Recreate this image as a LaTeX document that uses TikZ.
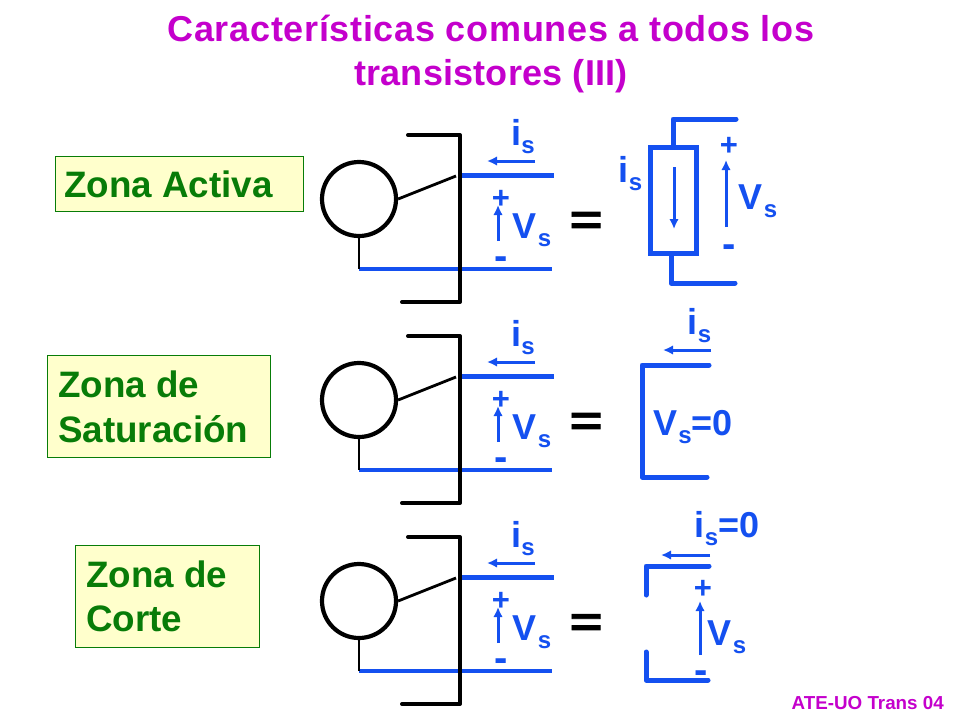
\documentclass[tikz,border=0pt]{standalone}
\usepackage{fontspec}
\setmainfont{Liberation Sans}
\usetikzlibrary{arrows.meta}
\definecolor{bl}{HTML}{1450F0}
\definecolor{gr}{HTML}{087C08}
\definecolor{mg}{HTML}{C400CC}
\definecolor{yl}{HTML}{FFFFCC}
\newcommand{\sym}[1]{\fontsize{#1}{#1}\selectfont\bfseries}
\newcommand{\Vs}{V\kern1pt\raisebox{-8pt}{\fontsize{24}{24}\selectfont s}}
\newcommand{\Is}{i\raisebox{-8pt}{\fontsize{24}{24}\selectfont s}}
\tikzset{
 x=1pt,y=-1pt,
 blk/.style={draw=black,line width=4pt,line join=round,line cap=round},
 blkthin/.style={draw=black,line width=2.8pt},
 wire/.style={draw=bl,line width=4.6pt},
 rwire/.style={draw=bl,line width=5pt,line join=round,line cap=round},
 cur/.style={draw=bl,line width=3pt,-{Latex[length=10pt,width=9.5pt]}},
 lab/.style={text=bl,font=\sym{36},inner sep=0pt},
 plus/.style={text=bl,font=\sym{31},inner sep=0pt},
 minus/.style={text=bl,font=\sym{40},inner sep=0pt},
 zonebox/.style={draw=gr,line width=0.7pt,fill=yl,anchor=north west,inner sep=0pt},
 zonetxt/.style={text=gr,font=\sym{36.8},align=left,inner sep=0pt,anchor=west},
 eq/.style={text=black,font=\sym{56}\addfontfeatures{FakeBold=1.6},inner sep=0pt},
 gnode/.style={circle,draw=black,line width=4.2pt,minimum size=74pt,inner sep=0pt},
 titletxt/.style={text=mg,font=\sym{36}\addfontfeatures{LetterSpace=1.9},inner sep=0pt},
 titletxtb/.style={text=mg,font=\sym{36}\addfontfeatures{LetterSpace=0.6},inner sep=0pt},
}
\begin{document}
\begin{tikzpicture}
\useasboundingbox (0,0) rectangle (960,720);
\fill[white] (0,0) rectangle (960,720);
% title
\node[titletxt] (t1) at (491,28) {Características comunes a todos los};
\node[titletxtb] (t2) at (491,76) {transistores (III)};
\node[text=mg,font=\sym{18.8},inner sep=0pt,anchor=east] (foot) at (944,703) {ATE-UO Trans 04};
% zones
\node[zonebox,minimum width=248pt,minimum height=55pt] (zA) at (55,156) {};
\node[zonetxt] (zAt) at (64,184) {Zona Activa};
\node[zonebox,minimum width=223pt,minimum height=102pt] (zB) at (47,355) {};
\node[zonetxt] (zBa) at (58,384) {Zona de};
\node[zonetxt] (zBb) at (58,429) {Saturación};
\node[zonebox,minimum width=184pt,minimum height=102pt] (zC) at (75,545) {};
\node[zonetxt] (zCa) at (86,574) {Zona de};
\node[zonetxt] (zCb) at (86,619) {Corte};
% transistor rows
\foreach \r/\dy in {a/0,b/201,c/402}{
 \begin{scope}[yshift=-\dy pt]
  \node[gnode] (g\r) at (359,199) {};
  \coordinate (bt\r) at (408,135);
  \coordinate (tr\r) at (460,135);
  \coordinate (br\r) at (460,302);
  \coordinate (bb\r) at (402,302);
  \coordinate (gt\r) at (456,176);
  \coordinate (dl\r) at (460,175.5);
  \coordinate (dr\r) at (554,175.5);
  \coordinate (sl\r) at (359,269);
  \coordinate (sr\r) at (552,269);
  \coordinate (ia\r) at (535,161);
  \coordinate (ib\r) at (487,161);
  \coordinate (va\r) at (498,241);
  \coordinate (vb\r) at (498,205);
  \draw[wire] (sl\r) -- (sr\r);
  \draw[wire] (dl\r) -- (dr\r);
  \draw[blk] (bt\r) -- (tr\r) -- (br\r) -- (bb\r);
  \draw[blkthin] (g\r.east) -- (gt\r);
  \draw[blkthin] (g\r.south) -- (sl\r);
  \draw[cur] (ia\r) -- (ib\r);
  \draw[cur] (va\r) -- (vb\r);
  \node[lab] (is\r) at (523,137) {\Is};
  \node[lab] (vs\r) at (532,230) {\Vs};
  \node[plus] (pl\r) at (501,199.5) {+};
  \node[minus] (mi\r) at (501,263) {-};
  \node[eq] (eq\r) at (586,223) {\scalebox{1}[0.75]{=}};
 \end{scope}
}
% active equivalent
\node[draw=bl,line width=5pt,minimum width=46pt,minimum height=106pt,inner sep=0pt] (src) at (673.5,200.5) {};
\coordinate (a1) at (673,119);
\coordinate (a2) at (736,119);
\coordinate (a3) at (671,283);
\coordinate (a4) at (735,283);
\coordinate (a5) at (674,167);
\coordinate (a6) at (674,229);
\coordinate (a7) at (726,227);
\coordinate (a8) at (726,160);
\draw[rwire] (src.north -| a1) -- (a1) -- (a2);
\draw[rwire] (src.south -| a3) -- (a3) -- (a4);
\draw[cur] (a5) -- (a6);
\draw[cur] (a7) -- (a8);
\node[lab] (ra) at (630.5,173.5) {\Is};
\node[plus] (rp) at (729,146) {+};
\node[minus] (rm) at (729,251) {-};
\node[lab] (rv) at (758,201.5) {\Vs};
% saturation equivalent
\coordinate (b1) at (709,365);
\coordinate (b2) at (642,365);
\coordinate (b3) at (642,477);
\coordinate (b4) at (707,477);
\coordinate (b5) at (711,350);
\coordinate (b6) at (663,350);
\draw[rwire] (b1) -- (b2) -- (b3) -- (b4);
\draw[cur] (b5) -- (b6);
\node[lab] (sb) at (699.5,326) {\Is};
\node[lab] (sv) at (693,427) {\Vs=0};
% cut-off equivalent
\coordinate (c1) at (709,566);
\coordinate (c2) at (646,566);
\coordinate (c3) at (646,595);
\coordinate (c4) at (646,652);
\coordinate (c5) at (646,680);
\coordinate (c6) at (708,680);
\coordinate (c7) at (710,555);
\coordinate (c8) at (661,555);
\coordinate (c9) at (700,655);
\coordinate (c10) at (700,601);
\draw[rwire] (c3) -- (c2) -- (c1);
\draw[rwire] (c4) -- (c5) -- (c6);
\draw[cur] (c7) -- (c8);
\draw[cur] (c9) -- (c10);
\node[lab] (ci) at (727,529) {\Is=0};
\node[plus] (cp) at (703,589) {+};
\node[minus] (cm) at (701,677) {-};
\node[lab] (cv) at (727,637) {\Vs};
\end{tikzpicture}
\end{document}
